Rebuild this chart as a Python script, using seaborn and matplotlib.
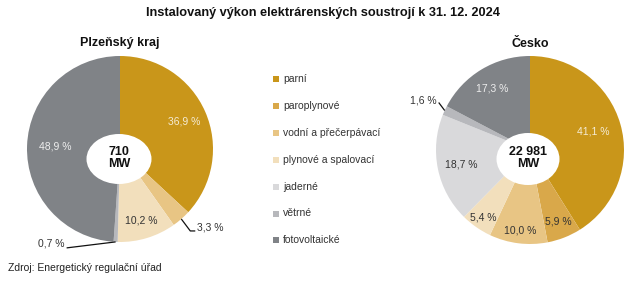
import matplotlib
matplotlib.use("Agg")
import matplotlib.pyplot as plt
from matplotlib.patches import Ellipse
import numpy as np
import seaborn as sns

# ---- data ----
categories = ["parní", "paroplynové", "vodní a přečerpávací", "plynové a spalovací",
              "jaderné", "větrné", "fotovoltaické"]
plzen_values = [36.9, 0.0, 3.3, 10.2, 0.0, 0.7, 48.9]
cesko_values = [41.1, 5.9, 10.0, 5.4, 18.7, 1.6, 17.3]
plzen_total = "710\nMW"
cesko_total = "22 981\nMW"
title = "Instalovaný výkon elektrárenských soustrojí k 31. 12. 2024"
plzen_title = "Plzeňský kraj"
cesko_title = "Česko"
source = "Zdroj: Energetický regulační úřad"

# ---- style ----
sns.set_theme(style="white")
plt.rcParams['font.family'] = ['Liberation Sans', 'DejaVu Sans']
colors = sns.color_palette(["#C9961A", "#D9A84A", "#E8C584", "#F2DFBC",
                            "#D9D9DB", "#B7B8BC", "#808387"])
label_colors = ["#F5ECD5", "#333333", "#333333", "#333333", "#333333", "#333333", "#EEEEEE"]
W, H = 643, 281

fig = plt.figure(figsize=(W / 100, H / 100), dpi=100)
ax = fig.add_axes([0, 0, 1, 1])


def pct(v):
    return f"{v:.1f}".replace(".", ",") + " %"


def draw_pie(values, center, radius, hole_center, hole_w, hole_h, total,
             label_r, outside):
    wedges, _ = ax.pie(values, colors=colors, startangle=90, counterclock=False,
                       center=center, radius=radius,
                       wedgeprops=dict(linewidth=0))
    cum = np.cumsum([0] + list(values))
    tot = sum(values)
    for i, v in enumerate(values):
        if v <= 0:
            continue
        mid = (cum[i] + v / 2) / tot * 360.0
        th = np.deg2rad(mid)
        if i in outside:
            (dx1, dy1), (dx2, dy2), (tx, ty), ha = outside[i]
            ex = center[0] + radius * np.sin(th)
            ey = center[1] + radius * np.cos(th)
            xs = [ex, ex + dx1]
            ys = [ey, ey + dy1]
            if dx2 or dy2:
                xs.append(ex + dx1 + dx2)
                ys.append(ey + dy1 + dy2)
            ax.plot(xs, ys, color="#111111", lw=0.9, solid_capstyle="butt")
            ax.text(xs[-1] + tx, ys[-1] + ty, pct(v), ha=ha, va="center",
                    fontsize=7.5, color="#333333")
        else:
            r = radius * label_r[i]
            ax.text(center[0] + r * np.sin(th), center[1] + r * np.cos(th), pct(v),
                    ha="center", va="center", fontsize=7.5, color=label_colors[i])
    ax.add_patch(Ellipse(hole_center, hole_w, hole_h, facecolor="white",
                         edgecolor="none", zorder=5))
    ax.text(hole_center[0], hole_center[1] + 1, total, ha="center", va="center",
            fontsize=9, fontweight="bold", color="#111111", zorder=6,
            linespacing=1.0)


# Plzeňský kraj
draw_pie(plzen_values, (120, H - 149), 93, (119, H - 159), 65, 50, plzen_total,
         label_r=[0.75, 0.8, 0.8, 0.8, 0.8, 0.8, 0.70],
         outside={2: ((9, -12), (5, 0), (2, 3), "left"),
                  5: ((-49, -6), (0, 0), (-2, 4), "right")})
# Česko
draw_pie(cesko_values, (530, H - 150), 94, (528, H - 159), 63, 52, cesko_total,
         label_r=[0.70, 0.82, 0.86, 0.87, 0.75, 0.8, 0.77],
         outside={5: ((-6, 8), (0, 0), (-2, 2), "right")})

ax.set_xlim(0, W)
ax.set_ylim(0, H)
ax.set_aspect("equal")
ax.axis("off")

# titles
ax.text(323, H - 13, title, ha="center", va="center", fontsize=9.2,
        fontweight="bold", color="#111111")
ax.text(120, H - 43, plzen_title, ha="center", va="center", fontsize=9,
        fontweight="bold", color="#111111")
ax.text(530, H - 44, cesko_title, ha="center", va="center", fontsize=9,
        fontweight="bold", color="#111111")

# legend
leg_y0, leg_dy = 79, 26.9
for i, (cat, col) in enumerate(zip(categories, colors)):
    y = H - (leg_y0 + i * leg_dy)
    ax.scatter([275.5], [y], marker="s", s=16, color=col, linewidths=0)
    ax.text(283, y, cat, ha="left", va="center", fontsize=7.5, color="#333333")

ax.text(8, H - 268, source, ha="left", va="center", fontsize=7.5, color="#222222")

fig.savefig("out.png", dpi=100, facecolor="white")
